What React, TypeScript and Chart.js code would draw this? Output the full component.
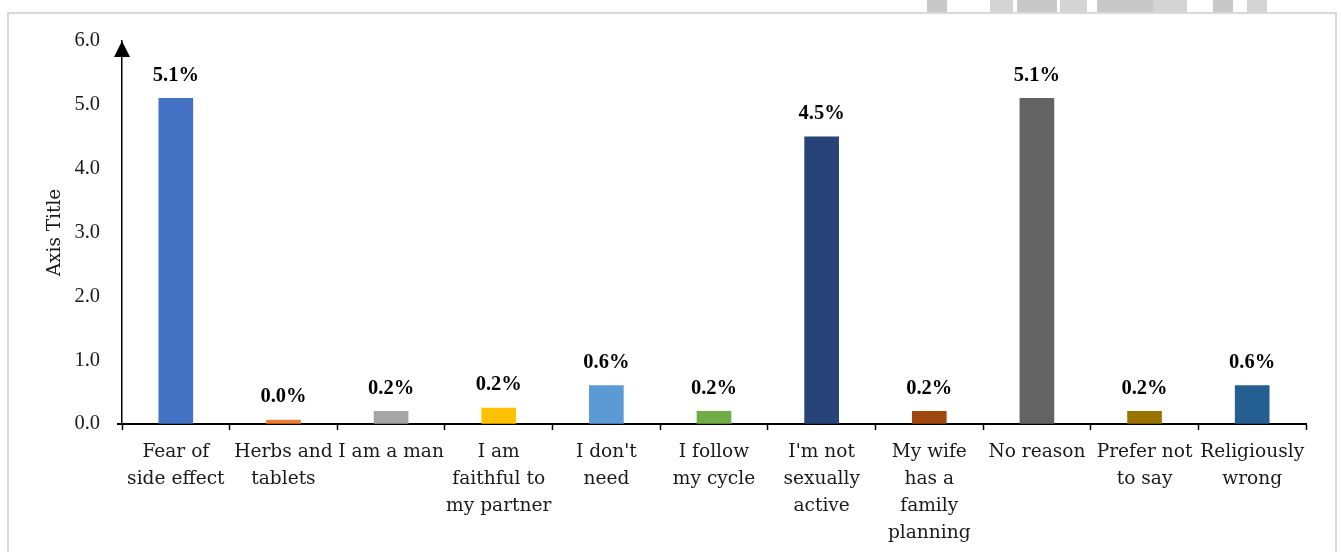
import React, { useEffect, useRef } from 'react';
import { Chart, registerables } from 'chart.js';

Chart.register(...registerables);

const categories: string[][] = [
  ['Fear of', 'side effect'],
  ['Herbs and', 'tablets'],
  ['I am a man'],
  ['I am', 'faithful to', 'my partner'],
  ["I don't", 'need'],
  ['I follow', 'my cycle'],
  ["I'm not", 'sexually', 'active'],
  ['My wife', 'has a', 'family', 'planning'],
  ['No reason'],
  ['Prefer not', 'to say'],
  ['Religiously', 'wrong'],
];
const values = [5.1, 0.06, 0.2, 0.25, 0.6, 0.2, 4.5, 0.2, 5.1, 0.2, 0.6];
const valueLabels = ['5.1%', '0.0%', '0.2%', '0.2%', '0.6%', '0.2%', '4.5%', '0.2%', '5.1%', '0.2%', '0.6%'];
const barColors = [
  '#4472C4', '#ED7D31', '#A5A5A5', '#FFC000', '#5B9BD5', '#70AD47',
  '#264478', '#9E480E', '#636363', '#997300', '#255E91',
];
const yAxisTitle = 'Axis Title';
const yMin = 0;
const yMax = 6;
const yStep = 1;

const FONT = "'DejaVu Serif', 'Liberation Serif', serif";
const FONT_NUM = "'Liberation Serif', 'DejaVu Serif', serif";

const labelPlugin = {
  id: 'valueLabels',
  afterDatasetsDraw(chart: any) {
    const ctx = chart.ctx;
    const meta = chart.getDatasetMeta(0);
    ctx.save();
    ctx.font = `bold 20.5px ${FONT_NUM}`;
    ctx.fillStyle = '#000';
    ctx.textAlign = 'center';
    ctx.textBaseline = 'middle';
    meta.data.forEach((bar: any, i: number) => {
      ctx.fillText(valueLabels[i], bar.x, bar.y - 23);
    });
    ctx.restore();
  },
};

const arrowPlugin = {
  id: 'axisArrow',
  afterDraw(chart: any) {
    const ctx = chart.ctx;
    const ys = chart.scales.y;
    const xs = chart.scales.x;
    const x = Math.round(ys.right);
    const top = chart.chartArea.top;
    const bottom = chart.chartArea.bottom;
    ctx.save();
    ctx.fillStyle = '#000';
    ctx.beginPath();
    ctx.moveTo(x, top);
    ctx.lineTo(x - 8, top + 16);
    ctx.lineTo(x + 8, top + 16);
    ctx.closePath();
    ctx.fill();
    ctx.strokeStyle = '#000';
    ctx.lineWidth = 2;
    ctx.beginPath();
    ctx.moveTo(x - 5, bottom);
    ctx.lineTo(xs.left, bottom);
    ctx.stroke();
    ctx.restore();
  },
};

export default function App() {
  const canvasRef = useRef<HTMLCanvasElement | null>(null);

  useEffect(() => {
    if (!canvasRef.current) return;
    const chart = new Chart(canvasRef.current, {
      type: 'bar',
      data: {
        labels: categories,
        datasets: [
          {
            data: values,
            backgroundColor: barColors,
            borderWidth: 0,
            barThickness: 34,
          },
        ],
      },
      options: {
        animation: false,
        responsive: false,
        maintainAspectRatio: false,
        layout: { padding: { left: 0, top: 41, right: 35, bottom: 0 } },
        plugins: {
          legend: { display: false },
          tooltip: { enabled: false },
        },
        scales: {
          x: {
            grid: {
              display: true,
              drawOnChartArea: false,
              drawTicks: true,
              tickLength: 6,
              tickColor: '#000',
              tickWidth: 1.5,
              offset: true,
            },
            border: { display: true, color: '#000', width: 2 },
            ticks: {
              color: '#1a1a1a',
              font: { family: FONT, size: 18.6, lineHeight: 1.44 },
              padding: 9,
              maxRotation: 0,
              autoSkip: false,
            },
            afterFit(scale: any) {
              scale.height = 128;
            },
          },
          y: {
            min: yMin,
            max: yMax,
            grid: { display: true, drawOnChartArea: false, drawTicks: false },
            border: { display: true, color: '#000', width: 1.5 },
            ticks: {
              stepSize: yStep,
              color: '#1a1a1a',
              padding: 22,
              font: { family: FONT_NUM, size: 20.5 },
              callback: (v: any) => Number(v).toFixed(1),
            },
            title: {
              display: true,
              text: yAxisTitle,
              color: '#1a1a1a',
              font: { family: FONT, size: 18.5 },
              padding: { top: 44, bottom: 0 },
            },
            afterFit(scale: any) {
              scale.width = 122;
            },
          },
        },
      },
      plugins: [labelPlugin, arrowPlugin],
    });
    return () => chart.destroy();
  }, []);

  const blocks = [
    [927, 20], [990, 23], [1017, 40], [1060, 27], [1097, 56], [1153, 34], [1213, 20], [1247, 20],
  ];

  return (
    <div style={{ position: 'fixed', left: 0, top: 0, width: 1341, height: 552, background: '#fff', overflow: 'hidden' }}>
      {blocks.map(([x, w], i) => (
        <div key={i} style={{ position: 'absolute', left: x, top: 0, width: w, height: 12, background: i % 2 ? '#d4d4d4' : '#c8c8c8' }} />
      ))}
      <div
        style={{
          position: 'absolute', left: 7, top: 12, width: 1330, height: 600,
          border: '2px solid #d9d9d9', boxSizing: 'border-box',
        }}
      />
      <canvas ref={canvasRef} width={1341} height={552} style={{ position: 'absolute', left: 0, top: 0 }} />
    </div>
  );
}
